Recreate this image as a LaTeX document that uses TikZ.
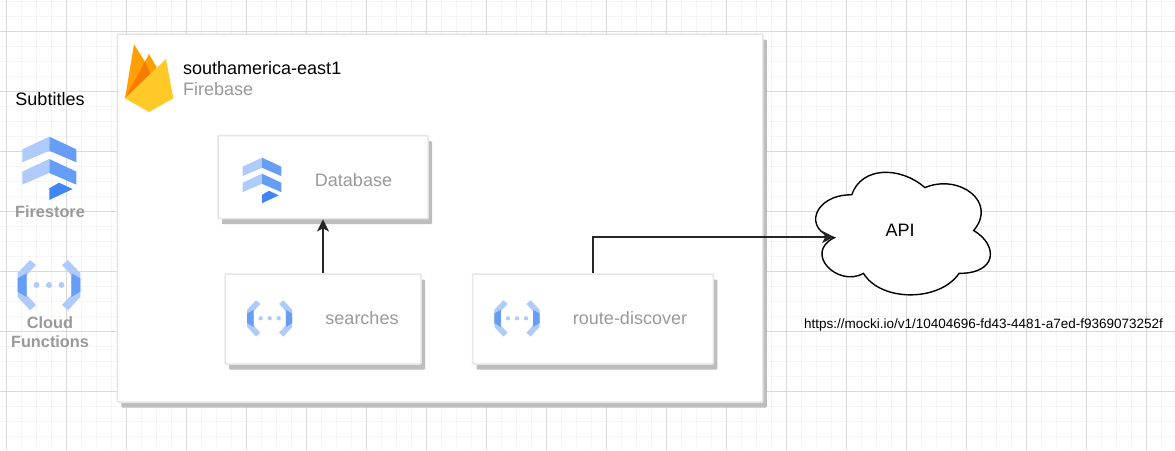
\documentclass[tikz,border=0pt]{standalone}
\usepackage{fontspec}
\setmainfont{Liberation Sans}
\usetikzlibrary{arrows.meta,shadows}

\definecolor{minorgrid}{HTML}{F5F5F5}
\definecolor{majorgrid}{HTML}{D9D9D9}
\definecolor{cardline}{HTML}{E6E6E6}
\definecolor{cardshadow}{HTML}{BDBDBD}
\definecolor{labelgray}{HTML}{999999}
\definecolor{iconlight}{HTML}{AECBFA}
\definecolor{iconmid}{HTML}{669DF6}
\definecolor{icondark}{HTML}{4285F4}
\definecolor{flameamber}{HTML}{FFA000}
\definecolor{flamedark}{HTML}{F57C00}
\definecolor{flameyellow}{HTML}{FFCA28}

\begin{document}
\begin{tikzpicture}[x=1pt,y=-1pt,
	minor line/.style={minorgrid,line width=1pt},
	major line/.style={majorgrid,line width=1pt},
	card/.style={rectangle,draw=cardline,fill=white,line width=1.5pt,rounded corners=1pt,
		general shadow={shadow xshift=4pt,shadow yshift=-5.5pt,fill=cardshadow}},
	big text/.style={font=\fontsize{18}{21}\selectfont,inner sep=0pt},
	card text/.style={big text,text=labelgray},
	legend text/.style={font=\bfseries\fontsize{16.3}{18.7}\selectfont,text=labelgray,align=center,inner sep=0pt},
	link/.style={-{Stealth[length=12pt,width=12pt,inset=3pt]},line width=1.4pt,black!85},
	pics/store icon/.style={code={
		\foreach \d in {0,22.3} {
			\fill[iconlight] (-27,{-18.7+\d}) -- (0,{-31.3+\d}) -- (0,{-17.3+\d}) -- (-27,{-5.7+\d}) -- cycle;
			\fill[iconmid] (27,{-18.7+\d}) -- (0,{-31.3+\d}) -- (0,{-17.3+\d}) -- (27,{-5.7+\d}) -- cycle;
		}
		\fill[icondark] (0,20.3) -- (9.7,14.7) -- (23.3,21) -- (0,32) -- cycle;
	}},
	pics/function icon/.style={code={
		\foreach \s in {1,-1} {
			\begin{scope}[xscale=\s]
				\fill[iconlight] (-19,-25) -- (-13,-20) -- (-22.3,-10) -- (-22.3,10) -- (-13,20) -- (-19,25.3) -- (-31.3,12) -- (-31.3,-12) -- cycle;
				\fill[iconmid] (-22.3,-11.7) -- (-31.3,-6.7) -- (-31.3,6.7) -- (-22.3,12) -- cycle;
			\end{scope}
		}
		\foreach \d in {-12.5,0,12.5}
			\fill[iconlight] (\d,0) circle (3);
	}}
]
	\useasboundingbox (0,0) rectangle (1175,450);

	% background grid
	\foreach \x in {6.5,21.5,...,1175}
		\draw[minor line] (\x,0) -- (\x,450);
	\foreach \y in {1.5,16.5,...,450}
		\draw[minor line] (0,\y) -- (1175,\y);
	\foreach \x in {6.5,66.5,...,1175}
		\draw[major line] (\x,0) -- (\x,450);
	\foreach \y in {31.5,91.5,...,450}
		\draw[major line] (0,\y) -- (1175,\y);

	% legend
	\node[big text,text=black] at (50,99) (subtitles) {Subtitles};
	\pic at (49.3,168) {store icon};
	\node[legend text] at (50,212) (firestore) {Firestore};
	\pic at (49,285) {function icon};
	\node[legend text] at (50,332.5) (functions) {Cloud\\Functions};

	% region
	\node[card,minimum width=645.5pt,minimum height=368pt] at (440.2,218) (region) {};
	\fill[flameamber] (125,98.3) -- (134,44.3) -- (145,61.7) -- (149,54) -- (156.7,67.3) -- (150,90) -- cycle;
	\fill[flamedark] (125,98.3) -- (145,61.7) -- (150.7,74.3) -- cycle;
	\fill[flameyellow] (125,98.3) -- (166,59) -- (173.3,98.3) -- (149,112) -- cycle;
	\node[big text,text=black,anchor=west] at (183,68) (regionname) {southamerica-east1};
	\node[card text,anchor=west] at (183,89) (firebase) {Firebase};

	% services
	\node[card,minimum width=210pt,minimum height=83pt] at (323,177.2) (database) {};
	\pic[scale=.72] at (262,180.2) {store icon};
	\node[card text] at (353.5,180) (databasetext) {Database};

	\node[card,minimum width=196pt,minimum height=90pt] at (323,319) (searches) {};
	\pic[scale=.72] at (269.7,318.3) {function icon};
	\node[card text] at (362,318) (searchestext) {searches};

	\node[card,minimum width=240.6pt,minimum height=90pt] at (593,319) (route) {};
	\pic[scale=.72] at (517,318.3) {function icon};
	\node[card text] at (630,318) (routetext) {route-discover};

	% cloud
	\begin{scope}[shift={(803,159)},x=195pt,y=-143pt]
		\draw[fill=white,line width=1.4pt] (0.25,0.25) .. controls (0.05,0.25) and (0,0.5) .. (0.16,0.55)
			.. controls (0,0.66) and (0.18,0.9) .. (0.31,0.8)
			.. controls (0.4,1) and (0.7,1) .. (0.8,0.8)
			.. controls (1,0.8) and (1,0.6) .. (0.875,0.5)
			.. controls (1,0.3) and (0.8,0.1) .. (0.625,0.2)
			.. controls (0.5,0.05) and (0.3,0.05) .. (0.25,0.25) -- cycle;
		\coordinate (apiedge) at (0.16,0.5454);
	\end{scope}
	\node[big text,text=black] at (900,230) (api) {API};
	\node[font=\fontsize{13.5}{15}\selectfont,inner sep=0pt] at (983.5,325) (url) {https://mocki.io/v1/10404696-fd43-4481-a7ed-f9369073252f};

	\draw[link] (searches.north) -- (database.south);
	\draw[link] (route.north) |- (apiedge);
\end{tikzpicture}
\end{document}
